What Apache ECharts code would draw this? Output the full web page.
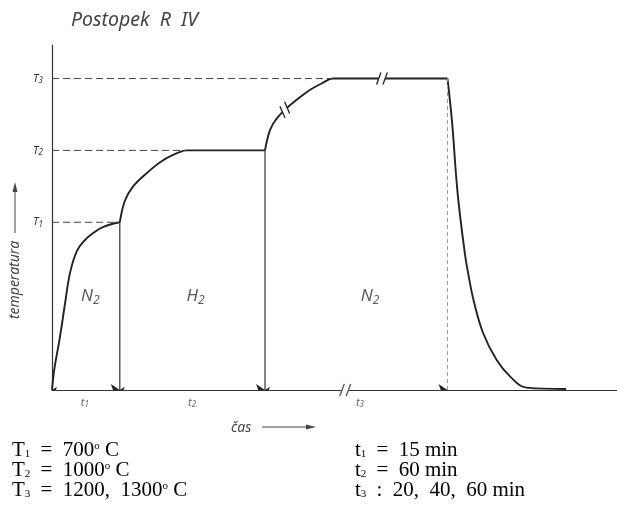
<!DOCTYPE html>
<html>
<head>
<meta charset="utf-8">
<script src="https://cdn.jsdelivr.net/npm/echarts@6/dist/echarts.min.js"></script>
<style>
  html, body { margin: 0; padding: 0; background: #fff; }
  #chart { width: 617px; height: 508px; }
</style>
</head>
<body>
<div id="chart"></div>
<script>
// Treatment programme R IV: schematic temperature vs. time (time axis not to scale)
var levelNames = ['T1', 'T2', 'T3'];
var levels = [700, 1000, 1300];          // °C
var phaseBounds = [0, 12, 37.7, 70];     // schematic time units
var phaseGas = ['N2', 'H2', 'N2'];
var phaseTimes = ['t1', 't2', 't3'];

// heating in N2 up to T1
var heat1 = [[0, 0], [0.4, 85], [1.4, 220], [2.3, 360], [3.2, 490], [4.4, 580],
             [5.8, 625], [7.3, 655], [9.0, 680], [12, 700]];
// heating in H2 up to T2 and hold
var heat2 = [[12, 700], [12.9, 790], [14.3, 848], [16.8, 906], [19.6, 958],
             [22.7, 994], [23.9, 1000], [37.7, 1000]];
// heating in N2 up to T3 and hold
var heat3 = [[37.7, 1000], [38.6, 1086], [39.8, 1134], [41.2, 1169], [43.3, 1211],
             [45.7, 1253], [48.0, 1283], [49.7, 1300], [70, 1300]];
// cooling
var cool = [[70, 1300], [70.8, 1120], [71.8, 820], [73.1, 565], [73.6, 495],
            [74.6, 376], [76.3, 238], [78.7, 125], [81.1, 56], [84.0, 10], [91, 4]];

// interrupted-scale marks (x on the curve / axis)
var breakCurveX = [41.2, 58.4];
var breakAxisX = [51.9];

// process parameters listed under the diagram
var tempNotes = [['T', '1', '700'], ['T', '2', '1000'], ['T', '3', '1200,  1300']];
var timeNotes = [['t', '1', '=', '15 min'], ['t', '2', '=', '60 min'], ['t', '3', ':', '20,  40,  60 min']];

var ink = '#222';

function interp(seg, x) {
  for (var i = 1; i < seg.length; i++) {
    if (x <= seg[i][0]) {
      var a = seg[i - 1], b = seg[i];
      var f = (x - a[0]) / (b[0] - a[0] || 1);
      return a[1] + f * (b[1] - a[1]);
    }
  }
  return seg[seg.length - 1][1];
}

function sub(name) {
  return '{m|' + name.charAt(0) + '}{s|' + name.slice(1) + '}';
}

var curveStyle = { color: ink, width: 1.9 };
function lineSeries(data, style, smooth) {
  return {
    type: 'line', data: data, showSymbol: false, symbol: 'none',
    smooth: smooth ? 0.4 : false,
    lineStyle: style, silent: true, animation: false, z: 3
  };
}

var series = [];
series.push(lineSeries(heat1, curveStyle, true));
series.push(lineSeries(heat2, curveStyle, true));
series.push(lineSeries(heat3, curveStyle, true));
series.push(lineSeries(cool, curveStyle, true));

// vertical phase boundaries
series.push(lineSeries([[phaseBounds[1], 0], [phaseBounds[1], levels[0]]], { color: '#333', width: 1.2 }, false));
series.push(lineSeries([[phaseBounds[2], 0], [phaseBounds[2], levels[1]]], { color: '#333', width: 1.2 }, false));
series.push(lineSeries([[phaseBounds[3], 0], [phaseBounds[3], levels[2]]], { color: '#999', width: 1, type: [4, 3] }, false));

// dashed reference levels up to where the curve reaches them
var levelEnds = [heat1[heat1.length - 1][0], heat2[6][0], heat3[7][0]];
levels.forEach(function (v, i) {
  series.push(lineSeries([[0, v], [levelEnds[i], v]], { color: '#444', width: 1, type: [7, 4] }, false));
});

// dimension arrows for the phase durations
var arrowSegs = [];
for (var i = 0; i < 3; i++) {
  arrowSegs.push({ coords: [[phaseBounds[i], 0], [phaseBounds[i + 1], 0]] });
}
series.push({
  type: 'lines', coordinateSystem: 'cartesian2d', data: arrowSegs,
  symbol: ['arrow', 'arrow'], symbolSize: [5, 9],
  lineStyle: { color: ink, width: 0.01, opacity: 1 },
  silent: true, animation: false, z: 4
});

// break marks
var breakData = breakCurveX.map(function (x) {
  return [x, x < phaseBounds[3] ? interp(heat3, x) : 0, 1];
}).concat(breakAxisX.map(function (x) { return [x, 0, 0]; }));
series.push({
  type: 'custom', data: breakData, silent: true, animation: false, z: 6,
  renderItem: function (params, api) {
    var x = api.value(0), y = api.value(1);
    var p = api.coord([x, y]);
    var ang = 0;
    if (api.value(2) === 1) {
      var p0 = api.coord([x - 0.6, interp(heat3, x - 0.6)]);
      var p1 = api.coord([x + 0.6, interp(heat3, x + 0.6)]);
      ang = Math.atan2(p1[1] - p0[1], p1[0] - p0[0]);
    }
    var gap = 3.2, half = 6, lean = 2.2;
    var children = [{
      type: 'rect', shape: { x: -gap, y: -2.5, width: gap * 2, height: 5 },
      style: { fill: '#fff' }
    }];
    [-gap, gap].forEach(function (dx) {
      children.push({
        type: 'line',
        shape: { x1: dx - lean, y1: half, x2: dx + lean, y2: -half },
        style: { stroke: api.value(2) === 1 ? ink : '#555', lineWidth: 1.3 }
      });
    });
    return {
      type: 'group', x: p[0], y: p[1], rotation: -ang, children: children
    };
  }
});

// gas labels inside phases, duration labels under the axis
var gasData = phaseGas.map(function (g, i) {
  var cx = [6.8, 25.4, 56.3][i];
  return { value: [cx, 392], name: g };
});
series.push({
  type: 'scatter', data: gasData, symbolSize: 0, silent: true, animation: false,
  label: {
    show: true, position: 'inside',
    formatter: function (p) { return sub(p.name); },
    rich: {
      m: { fontFamily: 'Noto Sans', fontStyle: 'italic', fontSize: 17, color: '#333' },
      s: { fontFamily: 'Noto Sans', fontStyle: 'italic', fontSize: 12, color: '#333', padding: [9, 0, 0, 0] }
    }
  }
});
var timeData = phaseTimes.map(function (t, i) {
  var cx = [5.8, 24.8, 54.5][i];
  return { value: [cx, 0], name: t };
});
series.push({
  type: 'scatter', data: timeData, symbolSize: 0, silent: true, animation: false,
  label: {
    show: true, position: 'bottom', distance: 6,
    formatter: function (p) { return sub(p.name); },
    rich: {
      m: { fontFamily: 'Noto Sans', fontStyle: 'italic', fontSize: 11, color: '#444' },
      s: { fontFamily: 'Noto Sans', fontStyle: 'italic', fontSize: 8, color: '#444', padding: [5, 0, 0, 0] }
    }
  }
});

var serif = '"Liberation Serif", "DejaVu Serif", serif';
var noteRich = {
  m: { fontFamily: serif, fontSize: 21, color: '#222' },
  e: { fontFamily: serif, fontSize: 21, color: '#222', padding: [0, 5, 0, 5] },
  s: { fontFamily: serif, fontSize: 11, color: '#222', padding: [8, 0, 0, 0] },
  d: { fontFamily: serif, fontSize: 11, color: '#222', padding: [0, 0, 9, 0] }
};
function note(x, y, sym, idx, op, rest, deg) {
  return {
    type: 'text', left: x, top: y,
    style: {
      rich: noteRich,
      text: '{m|' + sym + '}{s|' + idx + '}{e| ' + op + ' }{m|' + rest + '}' + (deg ? '{d|o}{m| C}' : '')
    }
  };
}
var noteGraphics = [];
tempNotes.forEach(function (n, i) {
  noteGraphics.push(note(12, 440 + i * 20, n[0], n[1], '=', n[2], true));
});
timeNotes.forEach(function (n, i) {
  noteGraphics.push(note(355, 440 + i * 20, n[0], n[1], n[2], n[3], false));
});

var chart = echarts.init(document.getElementById('chart'), null, { renderer: 'canvas' });
chart.setOption({
  backgroundColor: '#fff',
  animation: false,
  grid: { left: 52, right: 0, top: 45, bottom: 118, containLabel: false },
  xAxis: {
    type: 'value', min: 0, max: 100,
    axisLine: { show: true, lineStyle: { color: '#333', width: 1.2 } },
    axisTick: { show: false }, axisLabel: { show: false }, splitLine: { show: false }
  },
  yAxis: {
    type: 'value', min: 0, max: 1440,
    axisLine: { show: true, onZero: false, lineStyle: { color: '#333', width: 1.2 } },
    axisTick: { show: false }, splitLine: { show: false },
    axisLabel: {
      show: true, customValues: levels, margin: 9,
      formatter: function (v) { return sub(levelNames[levels.indexOf(v)]); },
      rich: {
        m: { fontFamily: 'Noto Sans', fontStyle: 'italic', fontSize: 11, color: '#333' },
        s: { fontFamily: 'Noto Sans', fontStyle: 'italic', fontSize: 8, color: '#333', padding: [5, 0, 0, 0] }
      }
    }
  },
  graphic: [
    { type: 'text', left: 71, top: 10,
      style: { text: 'Postopek  R  IV', fontFamily: 'Noto Sans', fontStyle: 'italic',
               fontSize: 19.5, fill: '#444' } },
    // vertical axis caption with arrow
    { type: 'text', x: 15, y: 280, rotation: Math.PI / 2,
      style: { text: 'temperatura', fontFamily: 'Noto Sans', fontStyle: 'italic',
               fontSize: 14, fill: '#444', align: 'center', verticalAlign: 'middle' } },
    { type: 'line', shape: { x1: 15, y1: 233, x2: 15, y2: 188 },
      style: { stroke: '#444', lineWidth: 1 } },
    { type: 'polygon', shape: { points: [[15, 182], [12.5, 192], [17.5, 192]] },
      style: { fill: '#444' } },
    // horizontal axis caption with arrow
    { type: 'text', x: 231, y: 428,
      style: { text: 'čas', fontFamily: 'Noto Sans', fontStyle: 'italic',
               fontSize: 14, fill: '#444', verticalAlign: 'middle' } },
    { type: 'line', shape: { x1: 262, y1: 427, x2: 308, y2: 427 },
      style: { stroke: '#444', lineWidth: 1 } },
    { type: 'polygon', shape: { points: [[316, 427], [306, 424.5], [306, 429.5]] },
      style: { fill: '#444' } }
  ].concat(noteGraphics),
  series: series
});
</script>
</body>
</html>
